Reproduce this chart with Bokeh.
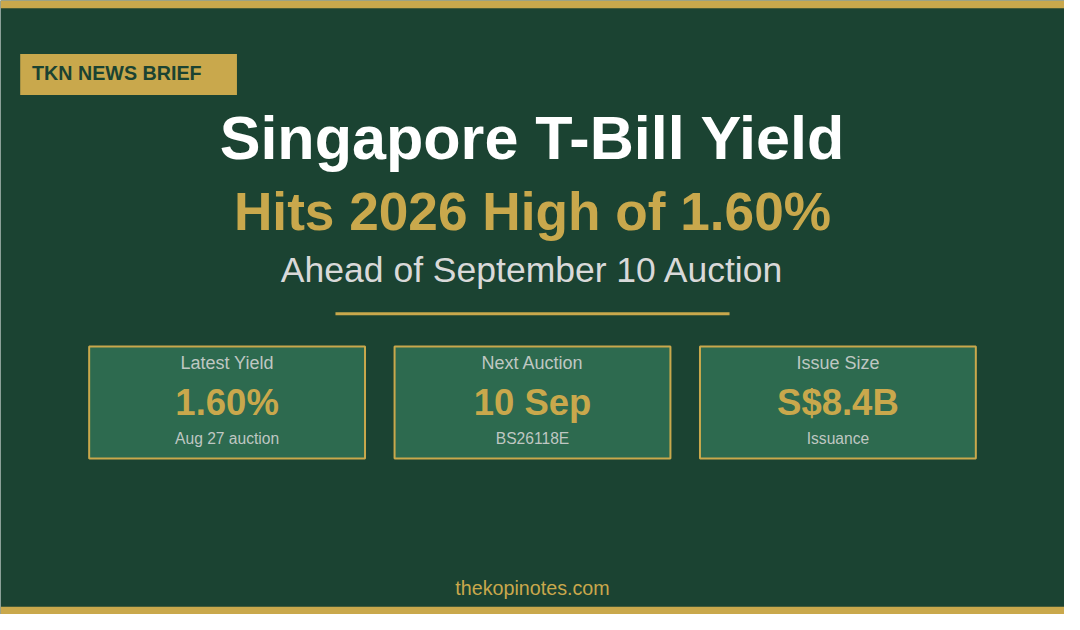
from bokeh.plotting import figure
from bokeh.models import Range1d
from bokeh.core.properties import value
from bokeh.embed import file_html
from bokeh.resources import INLINE

# content
badge = "TKN NEWS BRIEF"
title = "Singapore T-Bill Yield"
subtitle = "Hits 2026 High of 1.60%"
tagline = "Ahead of September 10 Auction"
card_labels = ["Latest Yield", "Next Auction", "Issue Size"]
card_values = ["1.60%", "10 Sep", "S$8.4B"]
card_notes = ["Aug 27 auction", "BS26118E", "Issuance"]
footer = "thekopinotes.com"

BG = "#1b4332"
CARD = "#2d6a4f"
GOLD = "#c9a84c"
GREY = "#bfc7c2"
FONT = value("Liberation Sans")

W, H = 1080, 630
k = 1064 / W  # page margin eats 16px, scale fonts to match


def fs(px):
    return "%.1fpx" % (px * k)


def base(y, px):
    # svg text sits a bit low with alphabetic baseline, pull it up
    return y - 0.38 * px


p = figure(width=1064, height=614, x_range=Range1d(0, W), y_range=Range1d(H, 0),
           output_backend="svg", toolbar_location=None, tools="", min_border=0)
p.axis.visible = False
p.grid.grid_line_color = None
p.outline_line_color = None
p.background_fill_color = BG
p.border_fill_color = BG

# gold bars top and bottom
p.quad(left=[0, 0], right=[W, W], top=[0, 622], bottom=[8, H], color=GOLD, line_width=0)

# badge
p.quad(left=[20], right=[240], top=[55], bottom=[97], color=GOLD, line_width=0)
p.text(x=[32], y=[base(82, 20)], text=[badge], text_color=BG, text_font=FONT, text_font_style="bold",
       text_font_size=fs(20), text_align="left", text_baseline="alphabetic")

# headline block
p.text(x=[W / 2], y=[base(165, 62)], text=[title], text_color="white", text_font=FONT,
       text_font_style="bold", text_font_size=fs(62), text_align="center", text_baseline="alphabetic")
p.text(x=[W / 2], y=[base(237, 54)], text=[subtitle], text_color=GOLD, text_font=FONT,
       text_font_style="bold", text_font_size=fs(54), text_align="center", text_baseline="alphabetic")
p.text(x=[W / 2], y=[base(290, 36)], text=[tagline], text_color="#d9d9d9", text_font=FONT,
       text_font_size=fs(36), text_align="center", text_baseline="alphabetic")
p.quad(left=[340], right=[740], top=[320], bottom=[323], color=GOLD, line_width=0)

# stat cards
cx = [230 + 310 * i for i in range(len(card_labels))]
p.quad(left=[c - 140 for c in cx], right=[c + 140 for c in cx], top=[355] * 3, bottom=[470] * 3,
       fill_color=CARD, line_color=GOLD, line_width=2)
p.text(x=cx, y=[base(379, 18.3)] * 3, text=card_labels, text_color=GREY, text_font=FONT,
       text_font_size=fs(18.3), text_align="center", text_baseline="alphabetic")
p.text(x=cx, y=[base(427, 37)] * 3, text=card_values, text_color=GOLD, text_font=FONT,
       text_font_style="bold", text_font_size=fs(37), text_align="center", text_baseline="alphabetic")
p.text(x=cx, y=[base(455, 15.8)] * 3, text=card_notes, text_color=GREY, text_font=FONT,
       text_font_size=fs(15.8), text_align="center", text_baseline="alphabetic")

# footer
p.text(x=[W / 2], y=[base(610, 20)], text=[footer], text_color=GOLD, text_font=FONT,
       text_font_size=fs(20), text_align="center", text_baseline="alphabetic")

open("out.html", "w").write(file_html(p, INLINE))
